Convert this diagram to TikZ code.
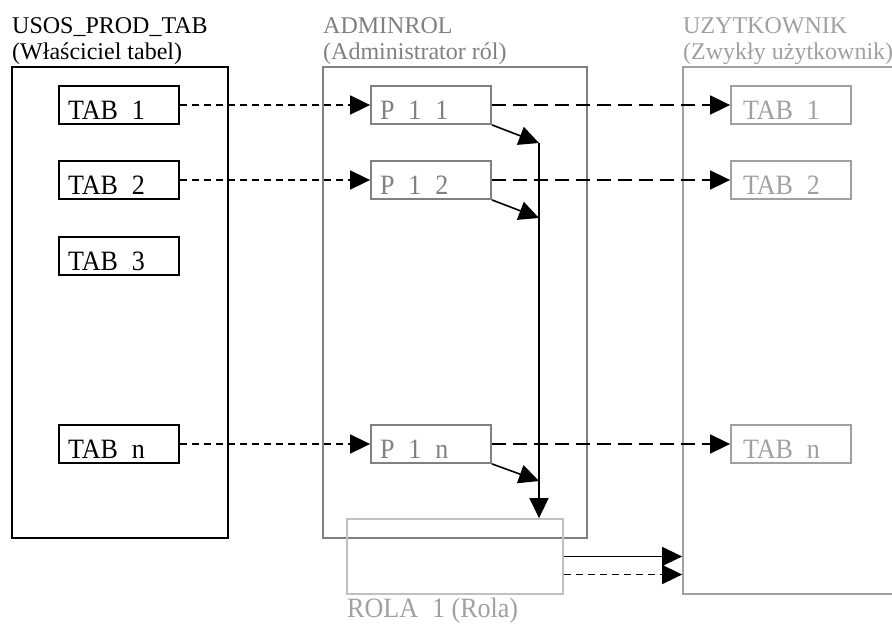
\documentclass[tikz,border=0pt]{standalone}
\usepackage{fontspec}
\setmainfont{Liberation Serif}
\newfontfamily\boxfont[FakeStretch=0.93]{Liberation Serif}
\usetikzlibrary{arrows.meta}
\definecolor{gA}{HTML}{808080}
\definecolor{gB}{HTML}{A0A0A0}
\definecolor{gC}{HTML}{C0C0C0}
\tikzset{
  hdr/.style={anchor=base west, inner sep=0pt, font=\fontsize{24}{26}\selectfont},
  bigbox/.style={draw, line width=1.8pt, inner sep=0pt},
  tabbox/.style={draw, line width=1.8pt, minimum width=120pt, inner ysep=0pt, inner xsep=9pt,
     text width=102pt, align=left, text height=33pt, text depth=5pt,
     font=\boxfont\fontsize{28}{30}\selectfont},
  utabbox/.style={tabbox, draw=gB, text=gB, inner xsep=12pt, text width=96pt},
  pbox/.style={tabbox, draw=gA, text=gA},
  tip/.style={-{Triangle[length=20pt,width=19pt]}},
  shortdash/.style={tip, line width=1.7pt, dash pattern=on 7pt off 5pt},
  longdash/.style={tip, line width=1.7pt, dash pattern=on 14pt off 7pt},
  solidarrow/.style={tip, line width=1.6pt},
}
\newcommand{\us}{\hspace{0.5em}}
\begin{document}
\begin{tikzpicture}[x=1pt,y=-1pt]
\useasboundingbox (0,0) rectangle (892,624);
% headers
\node[hdr] (h1a) at (12,33) {USOS\_PROD\_TAB};
\node[hdr] (h1b) at (12,59) {(Właściciel tabel)};
\node[hdr, text=gA] (h2a) at (323,33) {ADMINROL};
\node[hdr, text=gA] (h2b) at (323,59) {(Administrator ról)};
\node[hdr, text=gB] (h3a) at (683,33) {UZYTKOWNIK};
\node[hdr, text=gB] (h3b) at (683,59) {(Zwykły użytkownik)};
% big boxes
\node[bigbox, minimum width=216pt, minimum height=471pt] (owner) at (120,302.5) {};
\node[bigbox, draw=gA, minimum width=264pt, minimum height=471pt] (admin) at (455,302.5) {};
\node[bigbox, draw=gB, minimum width=217pt, minimum height=527pt] (uz) at (791.5,330.5) {};
\node[bigbox, draw=gC, minimum width=216pt, minimum height=75pt] (rola) at (455,556.5) {};
\node[anchor=base west, inner sep=0pt, text=gB, font=\boxfont\fontsize{28}{30}\selectfont] (rolalbl) at (347,617) {ROLA\us 1 (Rola)};
% table boxes
\node[tabbox] (t1) at (119,105) {TAB\us 1};
\node[tabbox] (t2) at (119,180) {TAB\us 2};
\node[tabbox] (t3) at (119,256) {TAB\us 3};
\node[tabbox] (tn) at (119,444) {TAB\us n};
\node[pbox] (p1) at (431,105) {P\us 1\us 1};
\node[pbox] (p2) at (431,180) {P\us 1\us 2};
\node[pbox] (pn) at (431,444) {P\us 1\us n};
\node[utabbox] (u1) at (791,105) {TAB\us 1};
\node[utabbox] (u2) at (791,180) {TAB\us 2};
\node[utabbox] (un) at (791,444) {TAB\us n};
% dashed grants
\draw[shortdash] (t1.east) -- (p1.west);
\draw[shortdash] (t2.east) -- (p2.west);
\draw[shortdash] (tn.east) -- (pn.west);
\draw[longdash] (p1.east) -- (u1.west);
\draw[longdash] (p2.east) -- (u2.west);
\draw[longdash] (pn.east) -- (un.west);
% role collection
\coordinate (j1) at (539,143);
\coordinate (j2) at (539,218);
\coordinate (jn) at (539,481);
\draw[solidarrow] (p1.south east) -- (j1);
\draw[solidarrow] (p2.south east) -- (j2);
\draw[solidarrow] (pn.south east) -- (jn);
\draw[solidarrow] (j1) -- (j1 |- rola.north);
% role to user
\coordinate (r1) at (rola.east);
\coordinate (r2) at ([yshift=-18pt]rola.east);
\draw[solidarrow] (r1) -- (r1 -| uz.west);
\draw[shortdash] (r2) -- (r2 -| uz.west);
\end{tikzpicture}
\end{document}
